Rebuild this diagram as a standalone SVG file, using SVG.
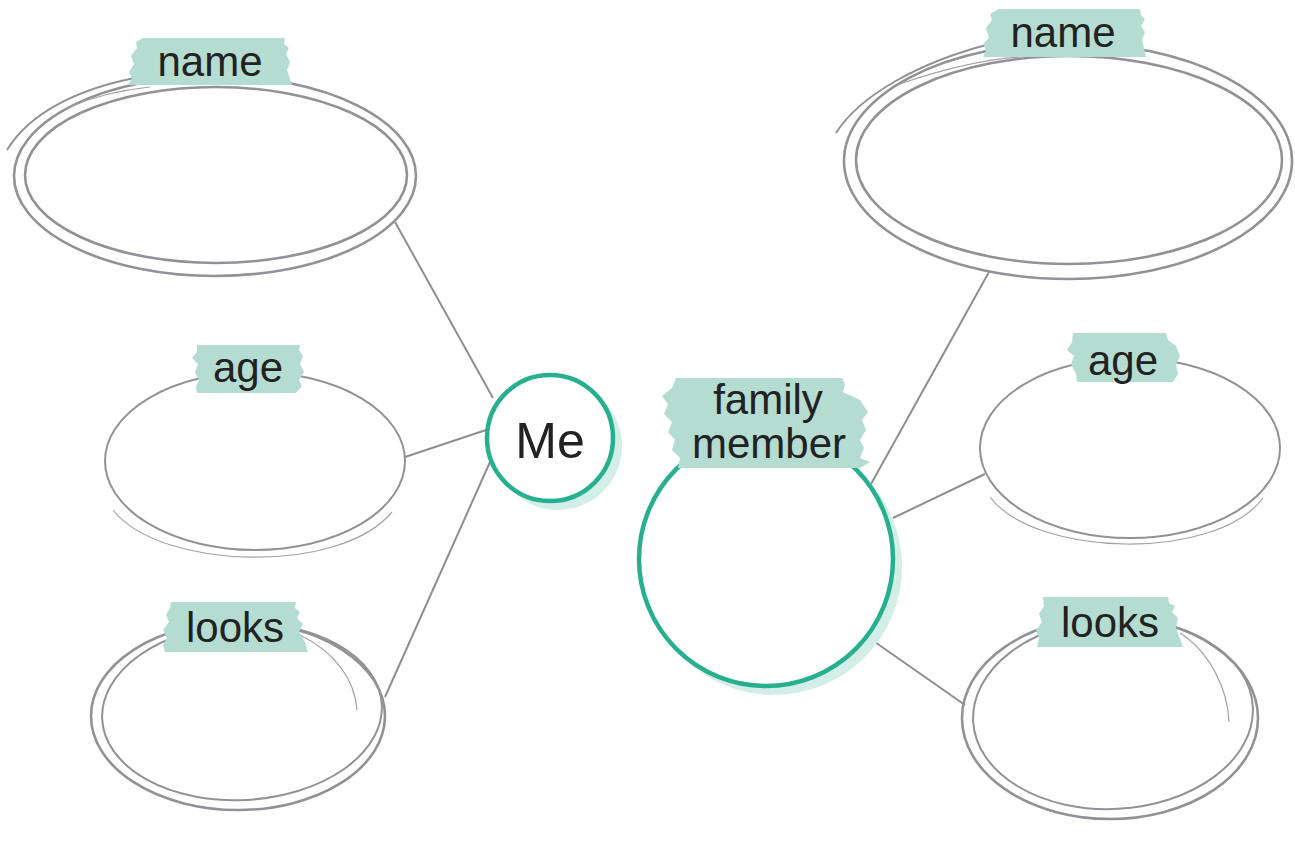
<svg xmlns="http://www.w3.org/2000/svg" width="1295" height="845" viewBox="0 0 1295 845">
<style>
.ring{fill:none;stroke:#929296;stroke-width:2.6}
.ring2{fill:none;stroke:#929296;stroke-width:2}
.thin{fill:none;stroke:#a2a2a6;stroke-width:1.2}
.tape{fill:#b4dcd0}
.lbl{font-family:"Liberation Sans",Arial,sans-serif;font-size:42px;fill:#222;text-anchor:middle}
.conn{stroke:#8e8e92;stroke-width:2;fill:none}
.hub{fill:#fff;stroke:#27b08f;stroke-width:4.5}
.shadow{fill:#d2eee7}
</style>
<rect width="1295" height="845" fill="#fff"/>
<g id="connectors">
<line class="conn" x1="395" y1="222" x2="493" y2="398"/>
<line class="conn" x1="405" y1="457" x2="486" y2="430"/>
<line class="conn" x1="385" y1="697" x2="490" y2="462"/>
<line class="conn" x1="871" y1="484" x2="989" y2="272"/>
<line class="conn" x1="893" y1="518" x2="985" y2="474"/>
<line class="conn" x1="872" y1="640" x2="965" y2="705"/>
</g>
<g id="me-name">
<ellipse class="ring" cx="215" cy="176" rx="201" ry="100"/>
<ellipse class="ring" cx="216" cy="175" rx="191" ry="88"/>
<path class="ring2" d="M7,150 C30,112 80,88 140,77"/>
<path class="thin" d="M67,108 C90,98 120,90 150,87"/>
<path class="tape" d="M143,38 L285,38 L284,44 L289,48 L286,54 L290,62 L287,70 L292,85 L128,85 L132,78 L129,72 L134,64 L131,56 L137,48 L136,42 Z"/>
<text class="lbl" x="210" y="76">name</text>
</g>
<g id="me-age">
<ellipse class="ring2" cx="255" cy="461" rx="150" ry="89"/>
<path class="thin" d="M113,510 C160,570 340,575 392,512"/>
<path class="tape" d="M197,345 L300,345 L299,350 L303,356 L300,364 L304,372 L299,380 L302,386 L296,393 L197,393 L196,386 L199,380 L195,372 L198,364 L192,358 L197,352 Z"/>
<text class="lbl" x="248" y="382">age</text>
</g>
<g id="me-looks">
<ellipse class="ring" cx="238" cy="716" rx="147" ry="94"/>
<ellipse class="ring2" cx="242" cy="712" rx="140" ry="88" transform="rotate(-3 242 712)"/>
<path class="thin" d="M300,635 C335,652 355,680 357,710"/>
<path class="tape" d="M171,602 L296,602 L295,608 L300,612 L297,618 L303,624 L299,632 L304,640 L308,652 L165,652 L163,645 L167,638 L163,630 L169,622 L166,615 L170,608 Z"/>
<text class="lbl" x="235" y="642">looks</text>
</g>
<g id="me">
<circle class="shadow" cx="558" cy="446" r="64"/>
<circle class="hub" cx="550" cy="438" r="63"/>
<text class="lbl" style="font-size:50px" x="550" y="458">Me</text>
</g>
<g id="family-member">
<circle class="shadow" cx="774" cy="567" r="128"/>
<circle class="hub" cx="766" cy="559" r="127"/>
<path class="tape" d="M676,378 L842,378 L845,384 L843,392 L860,400 L868,412 L862,420 L866,430 L860,440 L864,448 L860,458 L870,462 L860,468 L678,468 L680,458 L672,450 L675,440 L668,432 L672,422 L664,414 L668,404 L662,396 L672,388 Z"/>
<text class="lbl" x="768" y="414">family</text>
<text class="lbl" x="769" y="458">member</text>
</g>
<g id="fm-name">
<ellipse class="ring" cx="1068" cy="161" rx="224" ry="118"/>
<ellipse class="ring" cx="1069" cy="160" rx="213" ry="104"/>
<path class="ring2" d="M836,133 C860,95 920,62 990,44"/>
<path class="thin" d="M900,84 C940,70 980,60 1020,57"/>
<path class="tape" d="M999,9 L1140,9 L1141,15 L1145,19 L1141,26 L1145,32 L1142,40 L1146,57 L983,57 L986,50 L983,44 L989,38 L986,28 L992,20 L990,14 Z"/>
<text class="lbl" x="1063" y="47">name</text>
</g>
<g id="fm-age">
<ellipse class="ring2" cx="1130" cy="448" rx="150" ry="90"/>
<path class="thin" d="M990,497 C1035,557 1215,562 1263,498"/>
<path class="tape" d="M1073,333 L1166,333 L1168,340 L1176,346 L1180,356 L1176,364 L1178,374 L1173,382 L1077,382 L1076,374 L1071,364 L1074,356 L1067,350 L1072,342 Z"/>
<text class="lbl" x="1123" y="375">age</text>
</g>
<g id="fm-looks">
<ellipse class="ring" cx="1110" cy="718" rx="148" ry="101"/>
<ellipse class="ring2" cx="1113" cy="714" rx="140" ry="95" transform="rotate(-3 1113 714)"/>
<path class="thin" d="M1180,633 C1210,652 1228,690 1229,722"/>
<path class="tape" d="M1043,597 L1168,597 L1169,603 L1175,606 L1172,612 L1178,618 L1176,628 L1183,647 L1037,647 L1039,638 L1036,630 L1042,622 L1039,614 L1044,606 Z"/>
<text class="lbl" x="1110" y="637">looks</text>
</g>
</svg>
